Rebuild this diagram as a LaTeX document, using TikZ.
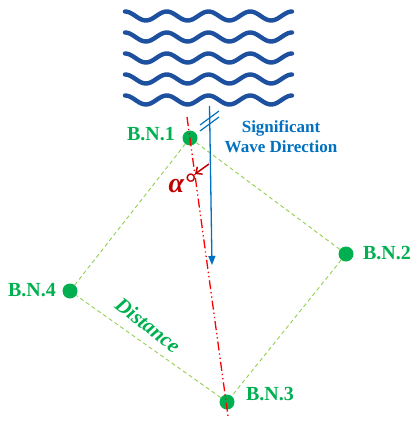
\documentclass[tikz,border=0pt]{standalone}
\usepackage{fontspec}
\setmainfont{Liberation Serif}
\usetikzlibrary{arrows.meta}
\definecolor{bngreen}{RGB}{0,176,80}
\definecolor{linegreen}{RGB}{146,208,80}
\definecolor{wblue}{RGB}{0,112,192}
\definecolor{wavecol}{RGB}{30,80,160}
\definecolor{darkred}{RGB}{192,0,0}
\tikzset{
  bndot/.style={circle,fill=bngreen,inner sep=0pt,minimum size=15pt},
  bnlabel/.style={text=bngreen,font=\fontsize{20}{20}\selectfont\bfseries,inner sep=0pt},
  side/.style={linegreen,line width=0.9pt,dash pattern=on 4pt off 3pt},
  wave/.style={wavecol,line width=4.4pt,line cap=round},
  axisline/.style={red,line width=1.3pt,dash pattern=on 9pt off 3pt on 1.3pt off 3pt on 1.3pt off 3pt},
  wavearrow/.style={wblue,line width=1.3pt,-{Triangle[length=9pt,width=7pt]}},
  ticks/.style={wblue,line width=1.2pt},
}
\begin{document}
\begin{tikzpicture}[x=1pt,y=-1pt]
\useasboundingbox (0,0) rectangle (415,425);
% waves
\foreach \r in {16,37,58,79,100}{
  \draw[wave] plot[domain=0:4,samples=81,smooth] ({125+\x*41.75},{\r-4.5*cos(360*\x)});
}
% buoy nodes
\node[bndot] (bn1) at (190,138) {};
\node[bndot] (bn2) at (346,254) {};
\node[bndot] (bn3) at (227,402) {};
\node[bndot] (bn4) at (70,291) {};
% sides
\draw[side] (bn1) -- (bn2);
\draw[side] (bn2) -- (bn3);
\draw[side] (bn3) -- (bn4);
\draw[side] (bn4) -- (bn1);
% labels
\node[bnlabel] (l1) at (151,134) {B.N.1};
\node[bnlabel] (l2) at (387,253) {B.N.2};
\node[bnlabel] (l3) at (270,394) {B.N.3};
\node[bnlabel] (l4) at (32,290) {B.N.4};
\node[text=bngreen,font=\fontsize{21}{21}\selectfont\bfseries\itshape,rotate=-38,inner sep=0pt] (dist) at (148,325) {Distance};
% axis line
\coordinate (ax1) at (187,117);
\coordinate (ax2) at (228,416);
\draw[axisline] (ax1) -- (ax2);
% wave direction arrow
\coordinate (wa1) at (209.5,106);
\coordinate (wa2) at (212,265);
\draw[wavearrow] (wa1) -- (wa2);
\coordinate (t1a) at (200,131);
\coordinate (t1b) at (219,117);
\coordinate (t2a) at (200,125);
\coordinate (t2b) at (219,111);
\draw[ticks] (t1a) -- (t1b);
\draw[ticks] (t2a) -- (t2b);
\node[text=wblue,font=\fontsize{17}{20}\selectfont\bfseries,align=center,inner sep=0pt] (wdir) at (281,137) {Significant\\Wave Direction};
% angle
\coordinate (ra1) at (209,164);
\coordinate (ra2) at (195,174);
\draw[darkred,line width=1.5pt,-{Straight Barb[length=5pt,width=9pt]}] (ra1) -- (ra2);
\node[text=darkred,font=\fontsize{28}{28}\selectfont\bfseries\itshape,inner sep=0pt] (alpha) at (182,183) {α°};
\end{tikzpicture}
\end{document}
